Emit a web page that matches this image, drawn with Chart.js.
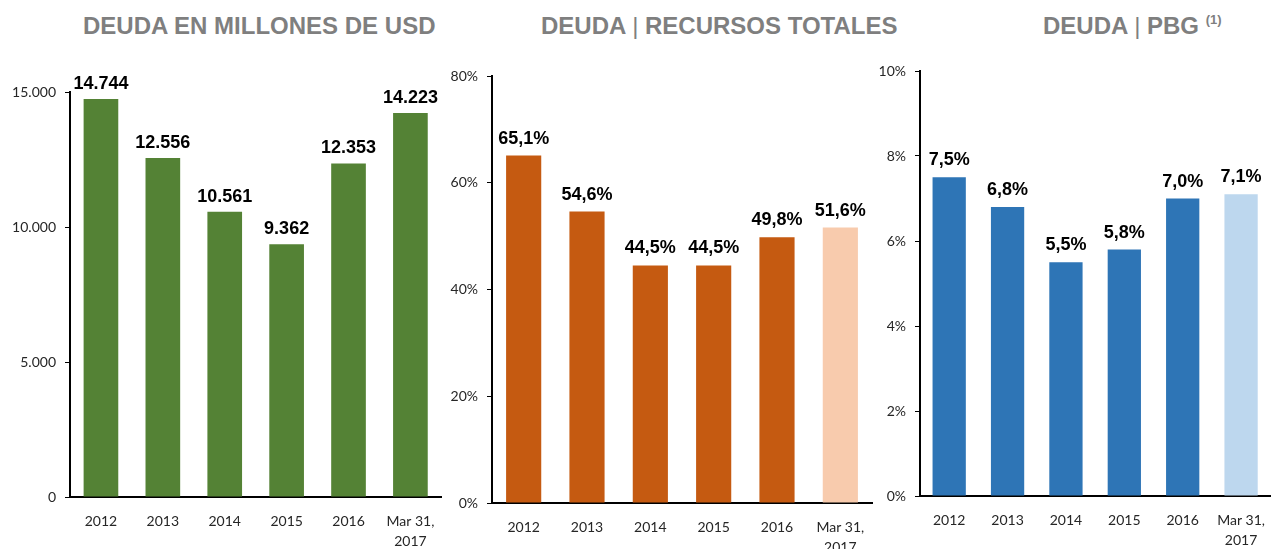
<!DOCTYPE html>
<html>
<head>
<meta charset="utf-8">
<script src="https://cdn.jsdelivr.net/npm/chart.js@4.4.1/dist/chart.umd.min.js"></script>
<style>
  body { margin: 0; background: #fff; width: 1280px; height: 549px; overflow: hidden; position: relative; }
  .title { position: absolute; top: 12px; font-family: "Liberation Sans", Arial, sans-serif; font-weight: bold;
           font-size: 24px; color: #7f7f7f; white-space: nowrap; }
  .title .bar { font-weight: normal; }
  .title sup { font-size: 13px; vertical-align: 10px; }
  .box { position: absolute; top: 40px; height: 509px; }
</style>
</head>
<body>
<div class="title" style="left:83px">DEUDA EN MILLONES DE USD</div>
<div class="title" style="left:541px">DEUDA <span class="bar">|</span> RECURSOS TOTALES</div>
<div class="title" style="left:1043px">DEUDA <span class="bar">|</span> PBG <sup>(1)</sup></div>

<div class="box" style="left:0;width:450px"><canvas id="chartUsd"></canvas></div>
<div class="box" style="left:445px;width:435px"><canvas id="chartRecursos"></canvas></div>
<div class="box" style="left:875px;width:405px"><canvas id="chartPbg"></canvas></div>

<script>
// Data
const categories = ['2012', '2013', '2014', '2015', '2016', ['Mar 31,', '2017']];
const deudaUsd = [14744, 12556, 10561, 9362, 12353, 14223];
const deudaRecursos = [65.1, 54.6, 44.5, 44.5, 49.8, 51.6];
const deudaPbg = [7.5, 6.8, 5.5, 5.8, 7.0, 7.1];

const usdTicks = [0, 5000, 10000, 15000];
const recursosTicks = [0, 20, 40, 60, 80];
const pbgTicks = [0, 2, 4, 6, 8, 10];

// formatting helpers
function fmtThousands(v) {
    return String(v).replace(/\B(?=(\d{3})+(?!\d))/g, '.');
}
function fmtPct1(v) {
    return v.toFixed(1).replace('.', ',') + '%';
}
function fmtPct0(v) {
    return v + '%';
}

// draws the bold numbers above the bars
function labelPlugin(fmt, gap) {
    return {
        id: 'valueLabels',
        afterDatasetsDraw(chart) {
            const ctx = chart.ctx;
            const meta = chart.getDatasetMeta(0);
            const data = chart.data.datasets[0].data;
            ctx.save();
            ctx.font = 'bold 18px "Liberation Sans", Arial, sans-serif';
            ctx.fillStyle = '#000';
            ctx.textAlign = 'center';
            ctx.textBaseline = 'alphabetic';
            meta.data.forEach((bar, i) => {
                ctx.fillText(fmt(data[i]), bar.x, bar.y - gap);
            });
            ctx.restore();
        }
    };
}

const tickFont = { family: 'Lato, "Open Sans", sans-serif', size: 14, lineHeight: 1.4 };

function makeChart(id, values, colors, tickVals, tickFmt, labelFmt, box) {
    const ctx = document.getElementById(id).getContext('2d');
    return new Chart(ctx, {
        type: 'bar',
        data: {
            labels: categories,
            datasets: [{
                data: values,
                backgroundColor: colors,
                borderWidth: 0,
                barPercentage: box.barPct,
                categoryPercentage: 1
            }]
        },
        options: {
            responsive: true,
            maintainAspectRatio: false,
            animation: false,
            layout: { padding: { top: box.top, right: box.right, left: 0, bottom: 0 } },
            plugins: {
                legend: { display: false },
                tooltip: { enabled: false }
            },
            scales: {
                x: {
                    grid: { display: false, drawTicks: false },
                    border: { display: true, color: '#000', width: 2 },
                    ticks: {
                        color: '#262626', font: tickFont, padding: 15,
                        maxRotation: 0, autoSkip: false
                    },
                    afterFit(scale) { scale.height = box.xHeight; }
                },
                y: {
                    min: tickVals[0],
                    max: tickVals[tickVals.length - 1],
                    afterBuildTicks(scale) {
                        scale.ticks = tickVals.map(v => ({ value: v }));
                    },
                    grid: { display: true, drawOnChartArea: false, drawTicks: true, tickLength: 5, color: '#000' },
                    border: { display: true, color: '#000', width: 2 },
                    ticks: { color: '#262626', font: tickFont, padding: 9, callback: v => tickFmt(v) },
                    afterFit(scale) { scale.width = box.yWidth; }
                }
            }
        },
        plugins: [labelPlugin(labelFmt, box.gap)]
    });
}

makeChart('chartUsd', deudaUsd,
    ['#548235', '#548235', '#548235', '#548235', '#548235', '#548235'],
    usdTicks, fmtThousands, fmtThousands,
    { top: 52, right: 8, xHeight: 52, yWidth: 70, barPct: 0.56, gap: 10 });

makeChart('chartRecursos', deudaRecursos,
    ['#C55A11', '#C55A11', '#C55A11', '#C55A11', '#C55A11', '#F8CBAD'],
    recursosTicks, fmtPct0, fmtPct1,
    { top: 36, right: 8, xHeight: 46, yWidth: 47, barPct: 0.555, gap: 12 });

makeChart('chartPbg', deudaPbg,
    ['#2E75B6', '#2E75B6', '#2E75B6', '#2E75B6', '#2E75B6', '#BDD7EE'],
    pbgTicks, fmtPct0, fmtPct1,
    { top: 31, right: 0, xHeight: 53, yWidth: 45, barPct: 0.57, gap: 12 });
</script>
</body>
</html>
